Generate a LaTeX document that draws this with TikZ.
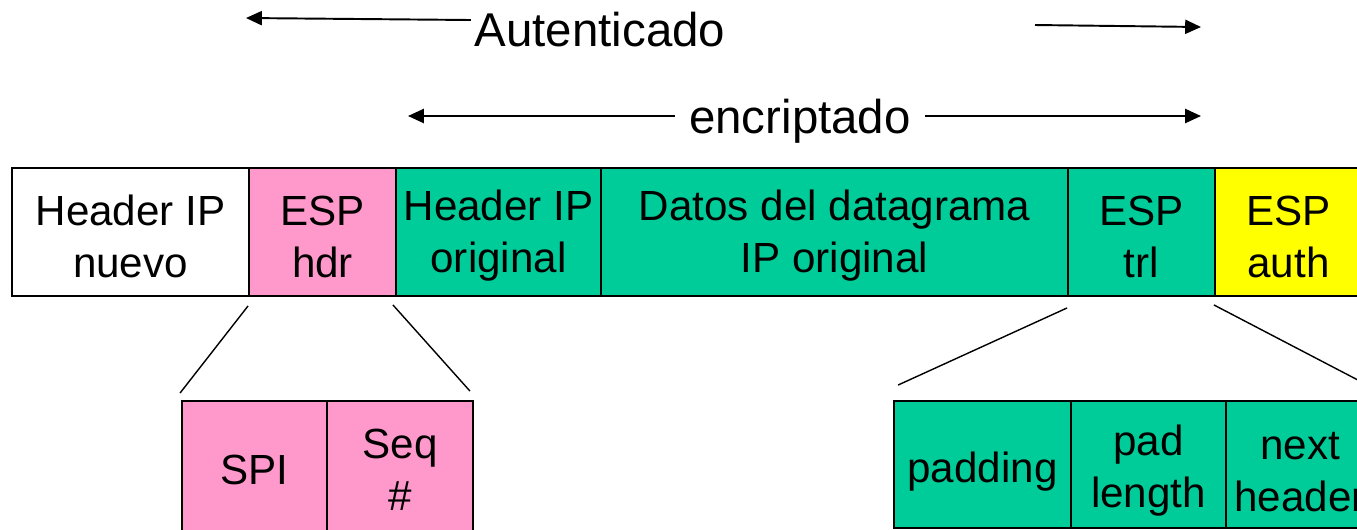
\documentclass[tikz,border=0pt]{standalone}
\usepackage{fontspec}
\setmainfont{Liberation Sans}
\usetikzlibrary{arrows.meta,calc}

\definecolor{esppink}{HTML}{FF99CC}
\definecolor{espgreen}{HTML}{00CC99}
\definecolor{espyellow}{HTML}{FFFF00}

% extra room above the first line, pushes the text down a little
\newcommand{\lift}[1]{\rule{0pt}{#1}}

\tikzset{
  field/.style={draw=black, line width=1.1pt, align=center, inner sep=0pt,
    font=\fontsize{24}{29.6}\selectfont},
  toprow/.style={field, minimum height=2.56cm},
  zoomline/.style={line width=0.8pt},
  span/.style={line width=1.1pt, -{Triangle[length=9pt,width=8pt]}},
  spanlabel/.style={inner sep=8pt, font=\fontsize{27}{32}\selectfont}
}

\begin{document}
\begin{tikzpicture}[x=0.02cm,y=-0.02cm]
    \useasboundingbox (0,0) rectangle (1357,529);
    \clip (0,0) rectangle (1357,529);

    % datagram
    \node[toprow, fill=white,     minimum width=4.74cm] (hdrnew)  at (130.5,232)  {\lift{22pt}Header IP\\nuevo};
    \node[toprow, fill=esppink,   minimum width=2.94cm] (esphdr)  at (322.5,232)  {\lift{22pt}ESP\\hdr};
    \node[toprow, fill=espgreen,  minimum width=4.10cm] (hdrorig) at (498.5,232)  {\lift{22pt}Header IP\\original};
    \node[toprow, fill=espgreen,  minimum width=9.34cm] (datos)   at (834.5,232)  {\lift{22pt}Datos del datagrama\\IP original};
    \node[toprow, fill=espgreen,  minimum width=2.94cm] (esptrl)  at (1141.5,232) {\lift{22pt}ESP\\trl};
    \node[toprow, fill=espyellow, minimum width=2.94cm] (espauth) at (1288.5,232) {\lift{22pt}ESP\\auth};

    % ESP header detail
    \node[field, fill=esppink, minimum width=2.90cm, minimum height=2.76cm] (spi) at (254.5,470) {SPI};
    \node[field, fill=esppink, minimum width=2.92cm, minimum height=2.76cm] (seq) at (400,470)   {Seq\\\#};

    % ESP trailer detail
    \node[field, fill=espgreen, minimum width=3.54cm, minimum height=2.54cm] (padding) at (982.5,464.5)  {\lift{25.5pt}padding};
    \node[field, fill=espgreen, minimum width=3.10cm, minimum height=2.54cm] (padlen)  at (1148.5,464.5) {\lift{24.5pt}pad\\length};
    \node[field, fill=espgreen, minimum width=2.96cm, minimum height=2.54cm] (nexthdr) at (1300,464.5)   {\lift{24.5pt}next\\header};

    \draw[zoomline] ($(esphdr.south west)+(0,9)$) -- ($(spi.north west)+(-1,-7)$);
    \draw[zoomline] ($(esphdr.south east)+(-4,8)$) -- ($(seq.north east)+(-4,-9)$);
    \draw[zoomline] ($(esptrl.south west)+(0,11)$) -- ($(padding.north west)+(5,-15)$);
    \draw[zoomline] ($(esptrl.south east)+(-2,8)$) -- ($(nexthdr.north east)+(6,-8)$);

    % spans
    \node[spanlabel, inner sep=2pt] (auth) at (600,30) {Autenticado};
    \coordinate (authL) at (246,18);
    \coordinate (authA) at (1035,25);
    \coordinate (authB) at (1201,27);
    \draw[span] ($(auth.west)+(0,-10)$) -- (authL);
    \draw[span] (authA) -- (authB);

    \node[spanlabel] (enc) at (800,121) {encriptado};
    \coordinate (encL) at (408,116);
    \coordinate (encR) at (1201,116);
    \draw[span] ($(enc.west)+(0,-5)$) -- (encL);
    \draw[span] ($(enc.east)+(0,-5)$) -- (encR);
\end{tikzpicture}
\end{document}
